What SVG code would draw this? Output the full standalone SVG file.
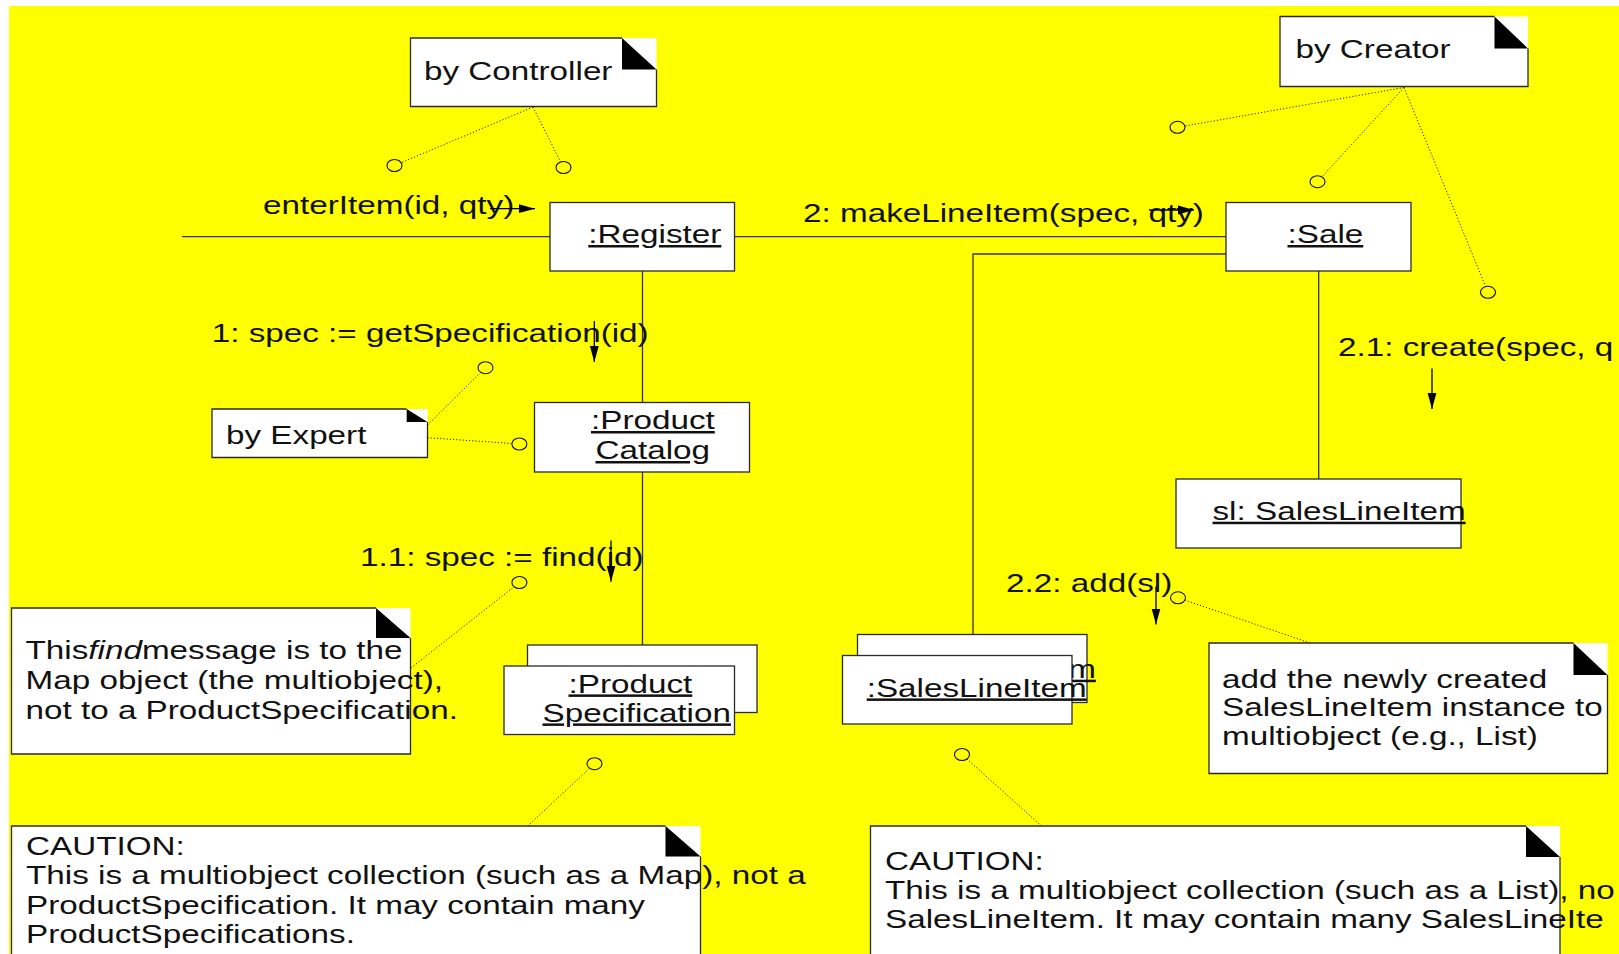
<svg xmlns="http://www.w3.org/2000/svg" width="1619" height="954" viewBox="0 0 1619 954">
  <defs>
    <marker id="head" markerUnits="userSpaceOnUse" orient="auto" markerWidth="16" markerHeight="10" viewBox="0 0 16 10" refX="16" refY="5">
      <path d="M0,0.6 L16,5 L0,9.4 Z" fill="#000"/>
    </marker>
  </defs>
  <style>
    text { font-family: "Liberation Sans", Arial, Helvetica, sans-serif; font-size: 25px; fill: #111; }
    .u { text-decoration: underline; }
    .box { fill: #fff; stroke: #2a2a2a; stroke-width: 1.3; }
    .paper { fill: #fff; stroke: none; }
    .edge { fill: none; stroke: #2a2a2a; stroke-width: 1.3; }
    .fold { fill: #000; }
    .link { fill: none; stroke: #333; stroke-width: 1.3; }
    .dot { fill: none; stroke: #222; stroke-width: 1; stroke-dasharray: 1.2 2; }
    .anchor { fill: #ff0; stroke: #111; stroke-width: 1.1; }
    .msg { fill: none; stroke: #000; stroke-width: 1.3; marker-end: url(#head); }
  </style>

  <rect x="0" y="0" width="1619" height="954" fill="#fff"/>
  <rect x="9" y="6" width="1610" height="948" fill="#ff0"/>

  <!-- links, note anchors and message arrows -->
  <g id="connectors">
    <path class="link" d="M182,236.7 H550"/>
    <path class="link" d="M734.5,236.7 H1226"/>
    <path class="link" d="M1226,254 H973 V634.5"/>
    <path class="link" d="M642.5,271 V402.5"/>
    <path class="link" d="M642.5,472 V645"/>
    <path class="link" d="M1318.7,271 V479"/>

    <path class="dot" d="M533,107 L394.5,165.5 M533,107 L563.5,167.5"/>
    <path class="dot" d="M1404,87.5 L1177.5,127.3 M1404,87.5 L1317.5,181.7 M1404,87.5 L1488,292.3"/>
    <path class="dot" d="M427.5,425 L485.5,367.7 M427.5,437.7 L519.4,444"/>
    <path class="dot" d="M411,668 L519.4,582.5"/>
    <path class="dot" d="M527.7,826 L594.5,763.7"/>
    <path class="dot" d="M1310,643 L1178,597.8"/>
    <path class="dot" d="M1041.5,826 L962,754.5"/>

    <ellipse class="anchor" cx="394.5" cy="165.5" rx="7.5" ry="6"/>
    <ellipse class="anchor" cx="563.5" cy="167.5" rx="7.5" ry="6"/>
    <ellipse class="anchor" cx="1177.5" cy="127.3" rx="7.5" ry="6"/>
    <ellipse class="anchor" cx="1317.5" cy="181.7" rx="7.5" ry="6"/>
    <ellipse class="anchor" cx="1488" cy="292.3" rx="7.5" ry="6"/>
    <ellipse class="anchor" cx="485.5" cy="367.7" rx="7.5" ry="6"/>
    <ellipse class="anchor" cx="519.4" cy="444" rx="7.5" ry="6"/>
    <ellipse class="anchor" cx="519.4" cy="582.5" rx="7.5" ry="6"/>
    <ellipse class="anchor" cx="594.5" cy="763.7" rx="7.5" ry="6"/>
    <ellipse class="anchor" cx="1178" cy="597.8" rx="7.5" ry="6"/>
    <ellipse class="anchor" cx="962" cy="754.5" rx="7.5" ry="6"/>

    <text transform="translate(263 213.5) scale(1.33 1)">enterItem(id, qty)</text>
    <path class="msg" d="M490,208.7 H535"/>

    <text transform="translate(803 222) scale(1.33 1)">2: makeLineItem(spec, qty)</text>
    <path class="msg" d="M1149,210 H1194"/>

    <text transform="translate(211.7 341.7) scale(1.33 1)">1: spec := getSpecification(id)</text>
    <path class="msg" d="M594.3,321 V362"/>

    <text transform="translate(360 565.5) scale(1.33 1)">1.1: spec := find(id)</text>
    <path class="msg" d="M611,540.5 V581.7"/>

    <text transform="translate(1338 355.5) scale(1.33 1)">2.1: create(spec, q</text>
    <path class="msg" d="M1432,368.5 V409"/>

    <text transform="translate(1006 592) scale(1.33 1)">2.2: add(sl)</text>
    <path class="msg" d="M1156,586.5 V624.5"/>
  </g>

  <!-- objects -->
  <g id="register">
    <rect class="box" x="550" y="202.5" width="184.5" height="68.5"/>
    <text class="u" transform="translate(588.3 243.3) scale(1.33 1)">:Register</text>
  </g>

  <g id="sale">
    <rect class="box" x="1226" y="202.5" width="185" height="68.5"/>
    <text class="u" transform="translate(1287.5 243.3) scale(1.33 1)">:Sale</text>
  </g>

  <g id="product-catalog">
    <rect class="box" x="534.5" y="402.5" width="215" height="69.5"/>
    <text class="u" transform="translate(591 429.3) scale(1.33 1)">:Product</text>
    <text class="u" transform="translate(595.5 459.3) scale(1.33 1)">Catalog</text>
  </g>

  <g id="product-specifications">
    <rect class="box" x="527.5" y="645" width="229.5" height="67.5"/>
    <rect class="box" x="504" y="666" width="230.5" height="68.5"/>
    <text class="u" transform="translate(568.5 692.7) scale(1.33 1)">:Product</text>
    <text class="u" transform="translate(542.5 721.7) scale(1.33 1)">Specification</text>
  </g>

  <g id="sales-line-items">
    <rect class="box" x="857.5" y="634.5" width="229.5" height="68"/>
    <text class="u" transform="translate(876 678) scale(1.33 1)">:SalesLineItem</text>
    <rect class="box" x="842.5" y="655.5" width="229.5" height="68.5"/>
    <text class="u" transform="translate(866.7 696.7) scale(1.33 1)">:SalesLineItem</text>
  </g>

  <g id="sl">
    <rect class="box" x="1176" y="479" width="285" height="69"/>
    <text class="u" transform="translate(1212.5 520) scale(1.33 1)">sl: SalesLineItem</text>
  </g>

  <!-- notes -->
  <g id="note-controller">
    <rect class="paper" x="410.5" y="38" width="246" height="68.5"/>
    <path class="edge" d="M622,38 H410.5 V106.5 H656.5 V69.5"/>
    <path class="fold" d="M622,38 V69.5 H656.5 Z"/>
    <text transform="translate(424 80) scale(1.33 1)">by Controller</text>
  </g>

  <g id="note-creator">
    <rect class="paper" x="1280" y="16.5" width="248" height="70"/>
    <path class="edge" d="M1494.5,16.5 H1280 V86.5 H1528 V48.5"/>
    <path class="fold" d="M1494.5,16.5 V48.5 H1528 Z"/>
    <text transform="translate(1295.5 58) scale(1.33 1)">by Creator</text>
  </g>

  <g id="note-expert">
    <rect class="paper" x="212" y="409" width="215.5" height="48.5"/>
    <path class="edge" d="M406.7,409 H212 V457.5 H427.5 V422"/>
    <path class="fold" d="M406.7,409 V422 H427.5 Z"/>
    <text transform="translate(226 443.5) scale(1.33 1)">by Expert</text>
  </g>

  <g id="note-find">
    <rect class="paper" x="11.5" y="608" width="399" height="146"/>
    <path class="edge" d="M376,608 H11.5 V754 H410.5 V638"/>
    <path class="fold" d="M376,608 V638 H410.5 Z"/>
    <text transform="translate(25.5 659) scale(1.33 1)"><tspan>This</tspan><tspan font-style="italic">find</tspan><tspan>message is to the</tspan><tspan x="0" dy="30">Map object (the multiobject),</tspan><tspan x="0" dy="30">not to a ProductSpecification.</tspan></text>
  </g>

  <g id="note-caution-map">
    <rect class="paper" x="11.5" y="826" width="689" height="140"/>
    <path class="edge" d="M665.5,826 H11.5 V966 M700.5,966 V856.5"/>
    <path class="fold" d="M665.5,826 V856.5 H700.5 Z"/>
    <text transform="translate(26 855) scale(1.33 1)"><tspan x="0">CAUTION:</tspan><tspan x="0" dy="29.3">This is a multiobject collection (such as a Map), not a</tspan><tspan x="0" dy="29.3">ProductSpecification. It may contain many</tspan><tspan x="0" dy="29.3">ProductSpecifications.</tspan></text>
  </g>

  <g id="note-add">
    <rect class="paper" x="1209" y="643" width="398.5" height="130.5"/>
    <path class="edge" d="M1573.5,643 H1209 V773.5 H1607.5 V675"/>
    <path class="fold" d="M1573.5,643 V675 H1607.5 Z"/>
    <text transform="translate(1222 687.5) scale(1.33 1)"><tspan x="0">add the newly created</tspan><tspan x="0" dy="29">SalesLineItem instance to</tspan><tspan x="0" dy="29">multiobject (e.g., List)</tspan></text>
  </g>

  <g id="note-caution-list">
    <rect class="paper" x="870.5" y="826" width="689.5" height="140"/>
    <path class="edge" d="M1526,826 H870.5 V966 M1560,966 V857"/>
    <path class="fold" d="M1526,826 V857 H1560 Z"/>
    <text transform="translate(885 870) scale(1.33 1)"><tspan x="0">CAUTION:</tspan><tspan x="0" dy="29">This is a multiobject collection (such as a List), no</tspan><tspan x="0" dy="29">SalesLineItem. It may contain many SalesLineIte</tspan></text>
  </g>
</svg>
